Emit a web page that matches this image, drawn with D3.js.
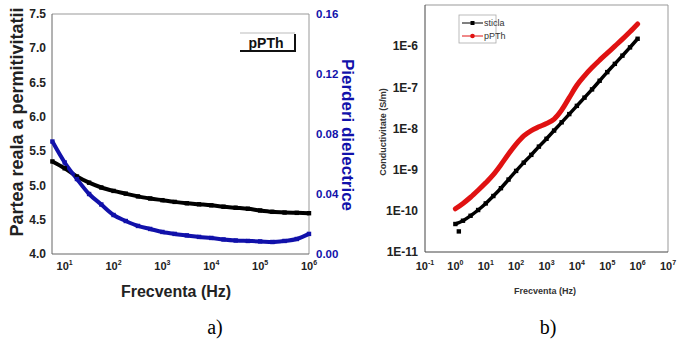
<!DOCTYPE html>
<html>
<head>
<meta charset="utf-8">
<script src="https://cdn.jsdelivr.net/npm/d3@7"></script>
<style>
  body { margin: 0; background: #fff; }
  svg { display: block; font-family: "Liberation Sans", Arial, sans-serif; }
</style>
</head>
<body>
<svg id="chart" width="679" height="340"></svg>
<script>
// ---- panel a) data ----
const freqA = [5.6, 10, 17.8, 31.6, 56.2, 100, 178, 316, 562, 1000, 1780, 3160, 5620,
  1e4, 1.78e4, 3.16e4, 5.62e4, 1e5, 1.78e5, 3.16e5, 5.62e5, 1e6];
const permReal = [5.35, 5.25, 5.13, 5.04, 4.97, 4.92, 4.88, 4.84, 4.81, 4.785, 4.76, 4.74, 4.725,
  4.71, 4.69, 4.675, 4.66, 4.635, 4.615, 4.605, 4.60, 4.595];
const losses = [0.075, 0.061, 0.050, 0.040, 0.033, 0.026, 0.022, 0.0187, 0.0167, 0.0147, 0.0134, 0.0124, 0.0114,
  0.0107, 0.0097, 0.009, 0.0087, 0.0084, 0.008, 0.0087, 0.010, 0.0134];
const leftTicksA = [4.0, 4.5, 5.0, 5.5, 6.0, 6.5, 7.0, 7.5];
const rightTicksA = [0, 0.04, 0.08, 0.12, 0.16];
const xTicksA = [1, 2, 3, 4, 5, 6];

// ---- panel b) data (log10 of conductivity) ----
const freqB = [1, 1.78, 3.16, 5.62, 10, 17.8, 31.6, 56.2, 100, 178, 316, 562, 1000, 1780, 3160, 5620,
  1e4, 1.78e4, 3.16e4, 5.62e4, 1e5, 1.78e5, 3.16e5, 5.62e5, 1e6];
const sticlaLog = [-10.32, -10.24, -10.12, -9.98, -9.82, -9.64, -9.45, -9.24, -9.03, -8.83, -8.64, -8.44,
  -8.25, -8.05, -7.85, -7.65, -7.45, -7.25, -7.05, -6.84, -6.63, -6.43, -6.23, -6.03, -5.82];
const pPThLog = [-9.95, -9.82, -9.67, -9.50, -9.32, -9.12, -8.88, -8.62, -8.38, -8.18, -8.05, -7.96,
  -7.88, -7.77, -7.55, -7.25, -6.95, -6.72, -6.52, -6.34, -6.17, -6.00, -5.83, -5.65, -5.46];
const sticlaOutlier = [{ f: 1.3, v: -10.5 }];
const yTicksB = [-11, -10, -9, -8, -7, -6];
const xTicksB = [-1, 0, 1, 2, 3, 4, 5, 6, 7];

const svg = d3.select('#chart');

function supLabel(sel, exp) {
  sel.append('tspan').text('10');
  sel.append('tspan').attr('dy', -5).style('font-size', '7px').text(exp);
}

// ================= panel a =================
const xA = d3.scaleLog().domain([5.5, 1e6]).range([52, 309]);
const yL = d3.scaleLinear().domain([4, 7.5]).range([254, 14]);
const yR = d3.scaleLinear().domain([0, 0.16]).range([254, 14]);
const blue = '#1111aa';

const gA = svg.append('g');

// frame
gA.append('line').attr('x1', 52).attr('x2', 309).attr('y1', 14).attr('y2', 14).attr('stroke', '#999');
gA.append('line').attr('x1', 309).attr('x2', 309).attr('y1', 14).attr('y2', 254).attr('stroke', '#999');
gA.append('line').attr('x1', 52).attr('x2', 52).attr('y1', 14).attr('y2', 254).attr('stroke', '#666');
gA.append('line').attr('x1', 52).attr('x2', 309).attr('y1', 254).attr('y2', 254).attr('stroke', '#666');

// left ticks
gA.selectAll('.tl').data(leftTicksA).enter().append('text')
  .attr('x', 46).attr('y', d => yL(d)).attr('dy', '0.35em')
  .attr('text-anchor', 'end').style('font-size', '12px').style('font-weight', 'bold').attr('fill', '#222')
  .text(d => d.toFixed(1));

// right ticks
gA.selectAll('.tr').data(rightTicksA).enter().append('text')
  .attr('x', 316).attr('y', d => yR(d)).attr('dy', '0.35em')
  .style('font-size', '11.5px').style('font-weight', 'bold').attr('fill', blue)
  .text(d => d.toFixed(2));

// x ticks
gA.selectAll('.tx').data(xTicksA).enter().append('text')
  .attr('x', d => xA(Math.pow(10, d))).attr('y', 270)
  .attr('text-anchor', 'middle').style('font-size', '11px').style('font-weight', 'bold').attr('fill', '#222')
  .each(function(d) { supLabel(d3.select(this), d); });

// axis titles
gA.append('text').attr('transform', 'translate(23,122) rotate(-90)')
  .attr('text-anchor', 'middle').style('font-size', '18px').style('font-weight', 'bold').attr('fill', '#222')
  .text('Partea reala a permitivitatii');
gA.append('text').attr('transform', 'translate(342,135) rotate(90)')
  .attr('text-anchor', 'middle').style('font-size', '17px').style('font-weight', 'bold').attr('fill', blue)
  .text('Pierderi dielectrice');
gA.append('text').attr('x', 176).attr('y', 297)
  .attr('text-anchor', 'middle').style('font-size', '16px').style('font-weight', 'bold').attr('fill', '#222')
  .text('Frecventa (Hz)');

// series
const lineReal = d3.line().x((d, i) => xA(freqA[i])).y(d => yL(d)).curve(d3.curveMonotoneX);
const lineLoss = d3.line().x((d, i) => xA(freqA[i])).y(d => yR(d)).curve(d3.curveMonotoneX);
gA.append('path').datum(permReal).attr('d', lineReal).attr('fill', 'none').attr('stroke', '#000').attr('stroke-width', 4);
gA.append('path').datum(losses).attr('d', lineLoss).attr('fill', 'none').attr('stroke', blue).attr('stroke-width', 4);
gA.selectAll('.mr').data(permReal).enter().append('rect')
  .attr('x', (d, i) => xA(freqA[i]) - 2.2).attr('y', d => yL(d) - 2.2)
  .attr('width', 4.4).attr('height', 4.4).attr('fill', '#000');
gA.selectAll('.ml').data(losses).enter().append('rect')
  .attr('x', (d, i) => xA(freqA[i]) - 2.2).attr('y', d => yR(d) - 2.2)
  .attr('width', 4.4).attr('height', 4.4).attr('fill', blue);

// pPTh box
const bx = gA.append('g').attr('transform', 'translate(240,33)');
bx.append('rect').attr('width', 55).attr('height', 18).attr('fill', '#fff');
bx.append('line').attr('x1', 0).attr('x2', 55).attr('y1', 0).attr('y2', 0).attr('stroke', '#bbb');
bx.append('line').attr('x1', 0).attr('x2', 56).attr('y1', 18).attr('y2', 18).attr('stroke', '#111').attr('stroke-width', 2);
bx.append('line').attr('x1', 55).attr('x2', 55).attr('y1', 1).attr('y2', 19).attr('stroke', '#111').attr('stroke-width', 2);
bx.append('text').attr('x', 26).attr('y', 14.5).attr('text-anchor', 'middle')
  .style('font-size', '14px').style('font-weight', 'bold').attr('fill', '#111').text('pPTh');

svg.append('text').attr('x', 215).attr('y', 334).attr('text-anchor', 'middle')
  .style('font-family', '"Liberation Serif", "Times New Roman", serif').style('font-size', '20px').text('a)');

// ================= panel b =================
const xB = d3.scaleLog().domain([0.1, 1e7]).range([425, 668]);
const yB = d3.scaleLinear().domain([-11, -5]).range([252, 5]);
const red = '#e01212';

const gB = svg.append('g');
gB.append('line').attr('x1', 425).attr('x2', 668).attr('y1', 5).attr('y2', 5).attr('stroke', '#999');
gB.append('line').attr('x1', 668).attr('x2', 668).attr('y1', 5).attr('y2', 252).attr('stroke', '#999');
gB.append('line').attr('x1', 425).attr('x2', 425).attr('y1', 5).attr('y2', 252).attr('stroke', '#444');
gB.append('line').attr('x1', 425).attr('x2', 668).attr('y1', 252).attr('y2', 252).attr('stroke', '#444');

gB.selectAll('.ty').data(yTicksB).enter().append('text')
  .attr('x', 418).attr('y', d => yB(d)).attr('dy', '0.35em')
  .attr('text-anchor', 'end').style('font-size', '12px').style('font-weight', 'bold').attr('fill', '#222')
  .text(d => '1E' + d);

gB.selectAll('.txb').data(xTicksB).enter().append('text')
  .attr('x', d => xB(Math.pow(10, d))).attr('y', 270)
  .attr('text-anchor', 'middle').style('font-size', '11px').style('font-weight', 'bold').attr('fill', '#222')
  .each(function(d) { supLabel(d3.select(this), d); });

gB.append('text').attr('transform', 'translate(386,132) rotate(-90)')
  .attr('text-anchor', 'middle').style('font-size', '9px').style('font-weight', 'bold').attr('fill', '#333')
  .text('Conductivitate (S/m)');
gB.append('text').attr('x', 545).attr('y', 294)
  .attr('text-anchor', 'middle').style('font-size', '9px').style('font-weight', 'bold').attr('fill', '#333')
  .text('Frecventa (Hz)');

const lineS = d3.line().x((d, i) => xB(freqB[i])).y(d => yB(d)).curve(d3.curveMonotoneX);
gB.append('path').datum(sticlaLog).attr('d', lineS).attr('fill', 'none').attr('stroke', '#000').attr('stroke-width', 3.5);
gB.selectAll('.ms').data(sticlaLog).enter().append('rect')
  .attr('x', (d, i) => xB(freqB[i]) - 2.2).attr('y', d => yB(d) - 2.2)
  .attr('width', 4.4).attr('height', 4.4).attr('fill', '#000');
gB.selectAll('.mo').data(sticlaOutlier).enter().append('rect')
  .attr('x', d => xB(d.f) - 2.2).attr('y', d => yB(d.v) - 2.2)
  .attr('width', 4.4).attr('height', 4.4).attr('fill', '#000');
gB.append('path').datum(pPThLog).attr('d', lineS).attr('fill', 'none').attr('stroke', red)
  .attr('stroke-width', 5).attr('stroke-linecap', 'round');

// legend
const lg = gB.append('g').attr('transform', 'translate(459,15)');
lg.append('rect').attr('width', 37).attr('height', 28).attr('fill', '#fff').attr('stroke', '#aaa').attr('stroke-width', 0.8);
lg.append('line').attr('x1', 3).attr('x2', 24).attr('y1', 8).attr('y2', 8).attr('stroke', '#000');
lg.append('rect').attr('x', 11.5).attr('y', 6).attr('width', 4).attr('height', 4).attr('fill', '#000');
lg.append('line').attr('x1', 3).attr('x2', 24).attr('y1', 21).attr('y2', 21).attr('stroke', red);
lg.append('circle').attr('cx', 13.5).attr('cy', 21).attr('r', 2.3).attr('fill', red);
lg.append('text').attr('x', 25).attr('y', 8).attr('dy', '0.35em').style('font-size', '9px').attr('fill', '#333').text('sticla');
lg.append('text').attr('x', 25).attr('y', 21).attr('dy', '0.35em').style('font-size', '9px').attr('fill', '#333').text('pPTh');

svg.append('text').attr('x', 548).attr('y', 334).attr('text-anchor', 'middle')
  .style('font-family', '"Liberation Serif", "Times New Roman", serif').style('font-size', '20px').text('b)');
</script>
</body>
</html>
